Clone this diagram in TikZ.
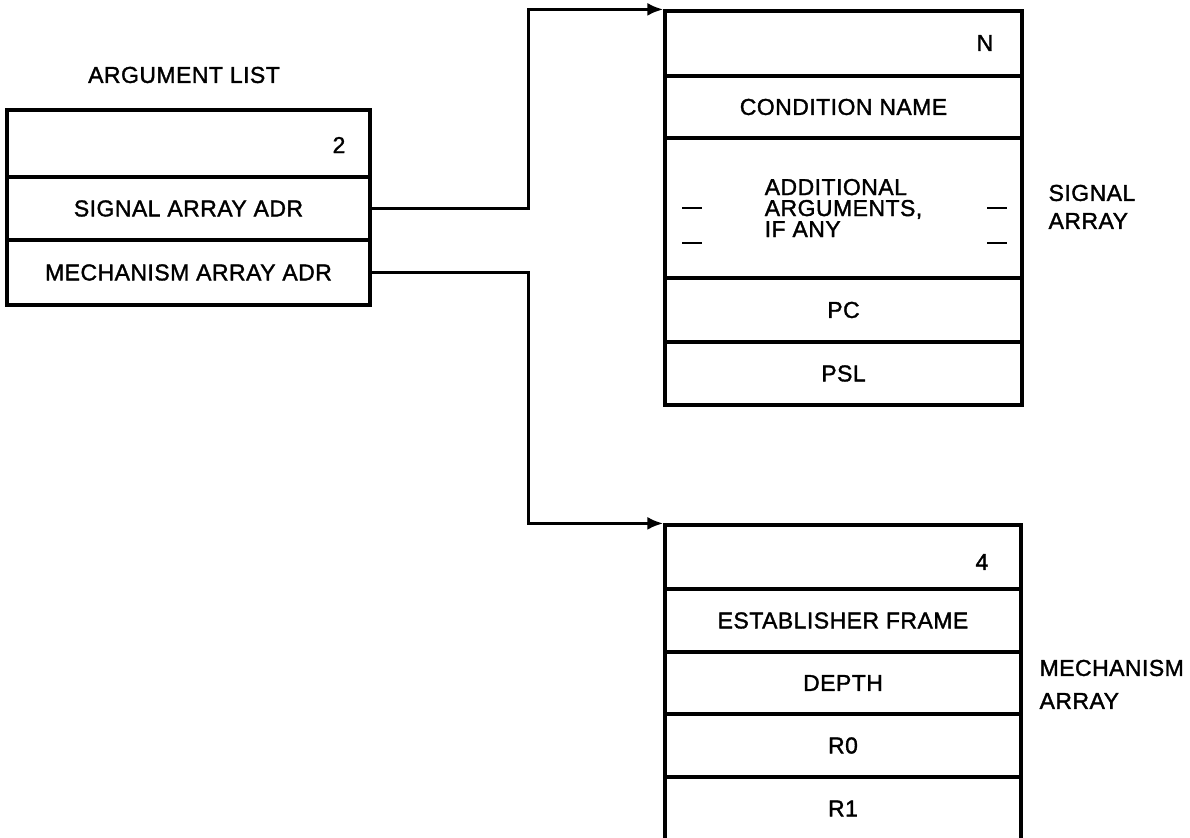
\documentclass[tikz,border=0pt]{standalone}
\usepackage{fontspec}
\setmainfont{Liberation Sans}[LetterSpace=2,FakeBold=1.5]
\usetikzlibrary{arrows.meta}
\begin{document}
\begin{tikzpicture}[x=0.5pt,y=-0.5pt, line width=1.6pt,
  every node/.style={font=\fontsize{11.5}{13}\selectfont, inner sep=0pt},
  alcell/.style={draw, rectangle, minimum width=181.5pt},
  sacell/.style={draw, rectangle, minimum width=178.5pt},
  macell/.style={draw, rectangle, minimum width=178pt},
  conn/.style={-{Latex[length=8pt,width=6.5pt]}},
  dashmark/.style={line width=1.3pt}]
\useasboundingbox (0,0) rectangle (1190,838);

% argument list
\node (altitle) at (184,75) {ARGUMENT LIST};
\node[alcell, minimum height=33.5pt] (al1) at (188.5,143.5) {};
\node[alcell, minimum height=31.5pt] (al2) at (188.5,208.5) {SIGNAL ARRAY ADR};
\node[alcell, minimum height=32.5pt] (al3) at (188.5,272.5) {MECHANISM ARRAY ADR};
\node (aln) at (339,145) {2};

% signal array
\node[sacell, minimum height=32.5pt] (sa1) at (843.5,43.5) {};
\node[sacell, minimum height=31pt] (sa2) at (843.5,107) {CONDITION NAME};
\node[sacell, minimum height=70pt, align=left, font=\fontsize{11.5}{10.5}\selectfont] (sa3) at (843.5,208) {ADDITIONAL\\ARGUMENTS,\\IF ANY};
\node[sacell, minimum height=32pt] (sa4) at (843.5,310) {PC};
\node[sacell, minimum height=31.5pt] (sa5) at (843.5,373.5) {PSL};
\node (san) at (985,43) {N};
\node[anchor=west] (salab1) at (1047,193) {SIGNAL};
\node[anchor=west] (salab2) at (1047,221) {ARRAY};

\draw[dashmark] (682,208) -- (702,208) (682,243) -- (702,243)
                (987,208) -- (1007,208) (987,243) -- (1007,243);

% mechanism array
\node[macell, minimum height=32pt] (ma1) at (843,557) {};
\node[macell, minimum height=31.5pt] (ma2) at (843,620.5) {ESTABLISHER FRAME};
\node[macell, minimum height=31pt] (ma3) at (843,683) {DEPTH};
\node[macell, minimum height=31.5pt] (ma4) at (843,745.5) {R0};
\node[rectangle, outer sep=0pt, minimum width=178pt, minimum height=30.5pt] (ma5) at (843,808.5) {R1};
\draw (ma5.north west) -- (ma5.south west) (ma5.north east) -- (ma5.south east);
\node (man) at (982,562) {4};
\node[anchor=west] (malab1) at (1038,668) {MECHANISM};
\node[anchor=west] (malab2) at (1038,701) {ARRAY};

% connectors
\draw[conn] (al2.east) -- ++(157,0) |- (sa1.north west);
\draw[conn] (al3.east) -- ++(157,0) |- (ma1.north west);
\end{tikzpicture}
\end{document}
